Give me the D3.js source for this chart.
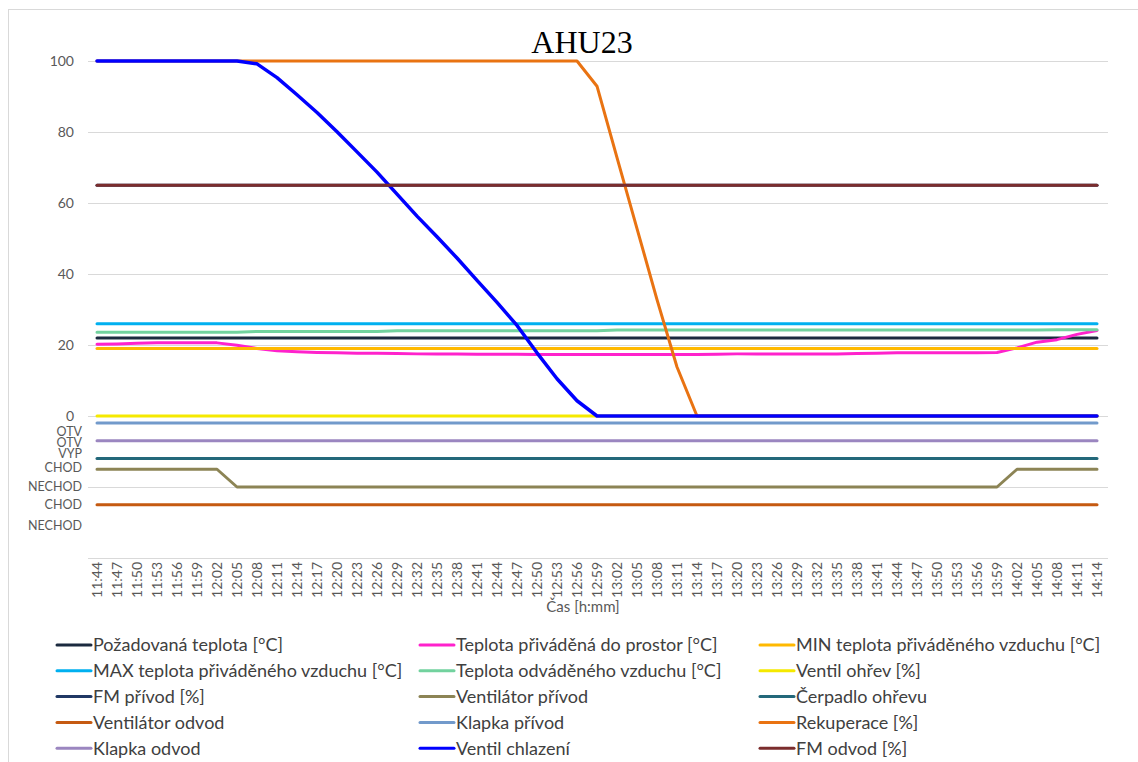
<!DOCTYPE html>
<html>
<head>
<meta charset="utf-8">
<script src="https://cdn.jsdelivr.net/npm/d3@7"></script>
<style>
  body { margin: 0; background: #fff; }
  svg { display: block; }
</style>
</head>
<body>
<svg id="chart" width="1138" height="762"></svg>
<script>
// time categories (every 3 minutes)
var times = ["11:44","11:47","11:50","11:53","11:56","11:59","12:02","12:05","12:08","12:11",
  "12:14","12:17","12:20","12:23","12:26","12:29","12:32","12:35","12:38","12:41",
  "12:44","12:47","12:50","12:53","12:56","12:59","13:02","13:05","13:08","13:11",
  "13:14","13:17","13:20","13:23","13:26","13:29","13:32","13:35","13:38","13:41",
  "13:44","13:47","13:50","13:53","13:56","13:59","14:02","14:05","14:08","14:11",
  "14:14"];

var yTicks = [0, 20, 40, 60, 80, 100];
var gridValues = [-40, -20, 0, 20, 40, 60, 80, 100];
var stateLabels = ["OTV", "OTV", "VYP", "CHOD", "NECHOD", "CHOD", "NECHOD"];
var stateValues = [-4.5, -7.6, -10.7, -14.6, -20, -25.1, -31];

var pozadovana = [22,22,22,22,22,22,22,22,22,22, 22,22,22,22,22,22,22,22,22,22,
  22,22,22,22,22,22,22,22,22,22, 22,22,22,22,22,22,22,22,22,22,
  22,22,22,22,22,22,22,22,22,22, 22];
var privadena = [20.2,20.3,20.5,20.6,20.6,20.6,20.6,19.9,19.0,18.4,
  18.1,17.9,17.8,17.7,17.7,17.6,17.5,17.5,17.5,17.4,
  17.4,17.4,17.3,17.3,17.3,17.3,17.3,17.3,17.3,17.3,
  17.3,17.4,17.5,17.5,17.5,17.5,17.5,17.5,17.6,17.7,
  17.8,17.8,17.8,17.8,17.8,17.9,19.2,20.8,21.5,23.0, 24.1];
var minTeplota = [19,19,19,19,19,19,19,19,19,19, 19,19,19,19,19,19,19,19,19,19,
  19,19,19,19,19,19,19,19,19,19, 19,19,19,19,19,19,19,19,19,19,
  19,19,19,19,19,19,19,19,19,19, 19];
var maxTeplota = [26,26,26,26,26,26,26,26,26,26, 26,26,26,26,26,26,26,26,26,26,
  26,26,26,26,26,26,26,26,26,26, 26,26,26,26,26,26,26,26,26,26,
  26,26,26,26,26,26,26,26,26,26, 26];
var odvadena = [23.6,23.6,23.6,23.6,23.6,23.6,23.6,23.6,23.8,23.8,
  23.8,23.8,23.8,23.8,23.8,24.0,24.0,24.0,24.0,24.0,
  24.0,24.0,24.0,24.0,24.0,24.0,24.2,24.2,24.2,24.2,
  24.2,24.2,24.2,24.2,24.2,24.2,24.2,24.2,24.2,24.2,
  24.2,24.2,24.2,24.2,24.2,24.2,24.2,24.2,24.3,24.3, 24.3];
var ventilOhrev = [0,0,0,0,0,0,0,0,0,0, 0,0,0,0,0,0,0,0,0,0,
  0,0,0,0,0,0,0,0,0,0, 0,0,0,0,0,0,0,0,0,0,
  0,0,0,0,0,0,0,0,0,0, 0];
var fmPrivod = [65,65,65,65,65,65,65,65,65,65, 65,65,65,65,65,65,65,65,65,65,
  65,65,65,65,65,65,65,65,65,65, 65,65,65,65,65,65,65,65,65,65,
  65,65,65,65,65,65,65,65,65,65, 65];
var ventilatorPrivod = [-15,-15,-15,-15,-15,-15,-15,-20,-20,-20,
  -20,-20,-20,-20,-20,-20,-20,-20,-20,-20, -20,-20,-20,-20,-20,-20,-20,-20,-20,-20,
  -20,-20,-20,-20,-20,-20,-20,-20,-20,-20, -20,-20,-20,-20,-20,-20,-15,-15,-15,-15, -15];
var cerpadlo = [-12,-12,-12,-12,-12,-12,-12,-12,-12,-12, -12,-12,-12,-12,-12,-12,-12,-12,-12,-12,
  -12,-12,-12,-12,-12,-12,-12,-12,-12,-12, -12,-12,-12,-12,-12,-12,-12,-12,-12,-12,
  -12,-12,-12,-12,-12,-12,-12,-12,-12,-12, -12];
var ventilatorOdvod = [-25,-25,-25,-25,-25,-25,-25,-25,-25,-25, -25,-25,-25,-25,-25,-25,-25,-25,-25,-25,
  -25,-25,-25,-25,-25,-25,-25,-25,-25,-25, -25,-25,-25,-25,-25,-25,-25,-25,-25,-25,
  -25,-25,-25,-25,-25,-25,-25,-25,-25,-25, -25];
var klapkaPrivod = [-2,-2,-2,-2,-2,-2,-2,-2,-2,-2, -2,-2,-2,-2,-2,-2,-2,-2,-2,-2,
  -2,-2,-2,-2,-2,-2,-2,-2,-2,-2, -2,-2,-2,-2,-2,-2,-2,-2,-2,-2,
  -2,-2,-2,-2,-2,-2,-2,-2,-2,-2, -2];
var rekuperace = [100,100,100,100,100,100,100,100,100,100, 100,100,100,100,100,100,100,100,100,100,
  100,100,100,100,100,92.9,72.8,52.8,32.8,13.8, 0,0,0,0,0,0,0,0,0,0,
  0,0,0,0,0,0,0,0,0,0, 0];
var klapkaOdvod = [-7,-7,-7,-7,-7,-7,-7,-7,-7,-7, -7,-7,-7,-7,-7,-7,-7,-7,-7,-7,
  -7,-7,-7,-7,-7,-7,-7,-7,-7,-7, -7,-7,-7,-7,-7,-7,-7,-7,-7,-7,
  -7,-7,-7,-7,-7,-7,-7,-7,-7,-7, -7];
var ventilChlazeni = [100,100,100,100,100,100,100,100,99.2,95.3,
  90.5,85.5,80.1,74.4,68.7,62.5,56.3,50.5,44.5,38.2,
  32,25.5,17.8,10.5,4.3,0,0,0,0,0, 0,0,0,0,0,0,0,0,0,0,
  0,0,0,0,0,0,0,0,0,0, 0];
var fmOdvod = [65,65,65,65,65,65,65,65,65,65, 65,65,65,65,65,65,65,65,65,65,
  65,65,65,65,65,65,65,65,65,65, 65,65,65,65,65,65,65,65,65,65,
  65,65,65,65,65,65,65,65,65,65, 65];

// series in drawing / legend order
var series = [
  {name: "Požadovaná teplota [°C]", color: "#1b2a3f", values: pozadovana},
  {name: "Teplota přiváděná do prostor [°C]", color: "#ff22cc", values: privadena},
  {name: "MIN teplota přiváděného vzduchu [°C]", color: "#ffb900", values: minTeplota},
  {name: "MAX teplota přiváděného vzduchu [°C]", color: "#00b0f0", values: maxTeplota},
  {name: "Teplota odváděného vzduchu  [°C]", color: "#72d29e", values: odvadena},
  {name: "Ventil ohřev [%]", color: "#f5e900", values: ventilOhrev},
  {name: "FM přívod [%]", color: "#203864", values: fmPrivod},
  {name: "Ventilátor přívod", color: "#8c8455", values: ventilatorPrivod},
  {name: "Čerpadlo ohřevu", color: "#23687a", values: cerpadlo},
  {name: "Ventilátor odvod", color: "#c55a11", values: ventilatorOdvod},
  {name: "Klapka přívod", color: "#729acb", values: klapkaPrivod},
  {name: "Rekuperace [%]", color: "#e97312", values: rekuperace},
  {name: "Klapka odvod", color: "#9b86c0", values: klapkaOdvod},
  {name: "Ventil chlazení", color: "#0000ff", values: ventilChlazeni},
  {name: "FM odvod [%]", color: "#7b2d2d", values: fmOdvod}
];

var svg = d3.select("#chart");
var font = "Lato, 'Open Sans', sans-serif";
var gray = "#595959";

var left = 88, right = 1108;

var x = d3.scaleBand().domain(times).range([left - 1, right - 1]);
var y = d3.scaleLinear().domain([-40, 100]).range([558, 61]);
function xc(t) { return x(t) + x.bandwidth() / 2; }

// chart border
svg.append("rect")
  .attr("x", 8.5).attr("y", 9.5)
  .attr("width", 1140).attr("height", 760)
  .attr("fill", "none")
  .attr("stroke", "#d9d9d9");

// title
svg.append("text")
  .attr("x", 582).attr("y", 53)
  .attr("text-anchor", "middle")
  .style("font-family", "'Liberation Serif', 'Times New Roman', serif")
  .style("font-size", "32px")
  .style("fill", "#000")
  .text("AHU23");

// gridlines
svg.append("g").selectAll("line")
  .data(gridValues)
  .enter().append("line")
  .attr("x1", left).attr("x2", right)
  .attr("y1", function(d) { return Math.round(y(d)) + 0.5; })
  .attr("y2", function(d) { return Math.round(y(d)) + 0.5; })
  .attr("stroke", "#d9d9d9")
  .attr("stroke-width", 1);

// numeric y labels
svg.append("g").selectAll("text")
  .data(yTicks)
  .enter().append("text")
  .attr("x", 74)
  .attr("y", function(d) { return y(d); })
  .attr("dy", "0.35em")
  .attr("text-anchor", "end")
  .style("font-family", font)
  .style("font-size", "14px")
  .style("fill", gray)
  .text(function(d) { return d; });

// state labels below zero (tight, as in the original)
svg.append("g").selectAll("text")
  .data(stateValues)
  .enter().append("text")
  .attr("x", 82)
  .attr("y", function(d) { return y(d); })
  .attr("dy", "0.35em")
  .attr("text-anchor", "end")
  .style("font-family", font)
  .style("font-size", "12.5px")
  .style("fill", gray)
  .text(function(d, i) { return stateLabels[i]; });

// x labels (rotated)
svg.append("g").selectAll("text")
  .data(times)
  .enter().append("text")
  .attr("transform", function(d) { return "translate(" + (xc(d) + 5) + ",562) rotate(-90)"; })
  .attr("text-anchor", "end")
  .style("font-family", font)
  .style("font-size", "14px")
  .style("fill", gray)
  .text(function(d) { return d; });

// x axis title
svg.append("text")
  .attr("x", 583).attr("y", 612)
  .attr("text-anchor", "middle")
  .style("font-family", font)
  .style("font-size", "15px")
  .style("fill", gray)
  .text("Čas [h:mm]");

// lines
var line = d3.line()
  .x(function(d, i) { return xc(times[i]); })
  .y(function(d) { return y(d); });

svg.append("g").selectAll("path")
  .data(series)
  .enter().append("path")
  .attr("d", function(s) { return line(s.values); })
  .attr("fill", "none")
  .attr("stroke", function(s) { return s.color; })
  .attr("stroke-width", function(s) { return s.name == "Ventil chlazení" ? 3.5 : 3; })
  .attr("stroke-linejoin", "round")
  .attr("stroke-linecap", "round");

// legend: 3 columns, 5 rows
var legX = [57, 420, 760];
var legY0 = 645, legDy = 25.8;
var leg = svg.append("g").selectAll("g")
  .data(series)
  .enter().append("g")
  .attr("transform", function(d, i) {
    return "translate(" + legX[i % 3] + "," + (legY0 + Math.floor(i / 3) * legDy) + ")";
  });
leg.append("line")
  .attr("x1", 0).attr("x2", 34)
  .attr("stroke", function(d) { return d.color; })
  .attr("stroke-width", 3)
  .attr("stroke-linecap", "round");
leg.append("text")
  .attr("x", 36)
  .attr("dy", "0.35em")
  .style("font-family", font)
  .style("font-size", "18px")
  .style("fill", "#404040")
  .text(function(d) { return d.name; });
</script>
</body>
</html>
